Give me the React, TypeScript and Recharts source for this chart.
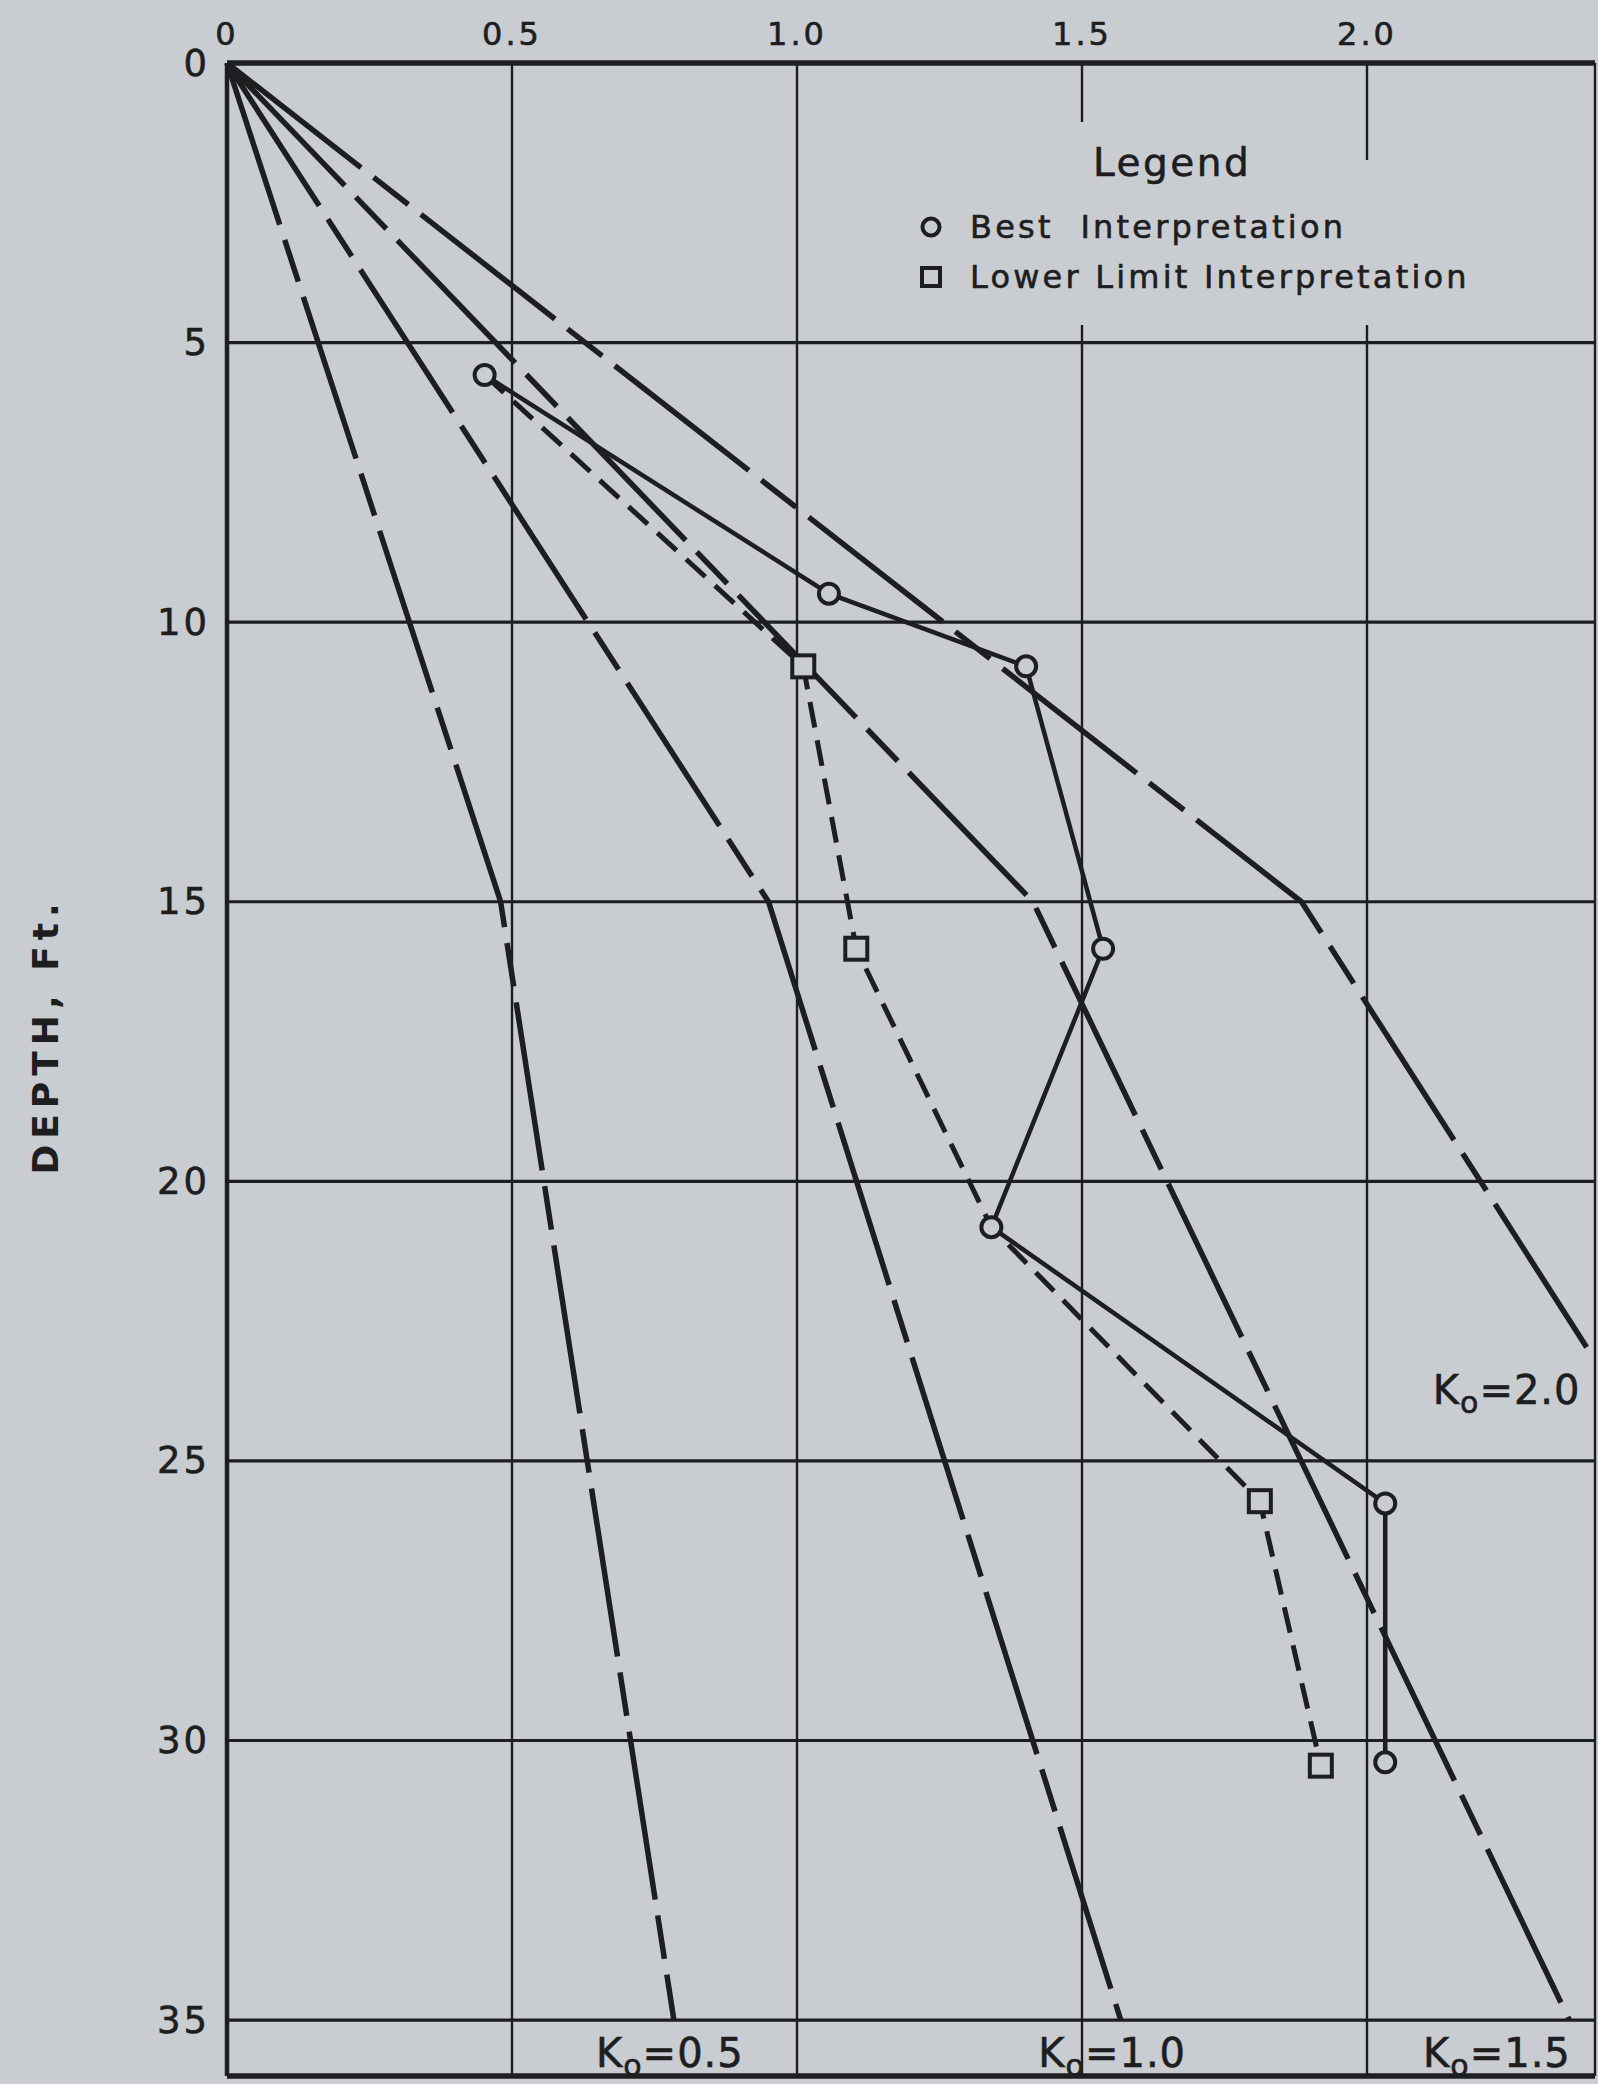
import {
  ComposedChart,
  Legend,
  Line,
  ReferenceLine,
  Scatter,
  XAxis,
  YAxis,
} from "recharts";

const BG = "#c9ccd0";
const INK = "#1e1e20";
const FONT = "'DejaVu Sans', 'Liberation Sans', sans-serif";

// axes
const xTicks = [0, 0.5, 1.0, 1.5, 2.0];
const xTickLabels = ["0", "0.5", "1.0", "1.5", "2.0"];
const yTicks = [0, 5, 10, 15, 20, 25, 30, 35];
const xGrid = [0.5, 1.0, 1.5, 2.0];
const yGrid = [5, 10, 15, 20, 25, 30, 35];
const X_MAX = 2.4;
const Y_MAX = 36;

// K0 reference lines (depth in ft)
const k0Half = [
  { x: 0, y: 0 },
  { x: 0.48, y: 15 },
  { x: 0.784, y: 35 },
];
const k0One = [
  { x: 0, y: 0 },
  { x: 0.95, y: 15 },
  { x: 1.568, y: 35 },
];
const k0OneHalf = [
  { x: 0, y: 0 },
  { x: 1.414, y: 15 },
  { x: 2.355, y: 35 },
];
const k0Two = [
  { x: 0, y: 0 },
  { x: 1.885, y: 15 },
  { x: 2.4, y: 23.2 },
];

// measured points
const bestInterpretation = [
  { x: 0.452, y: 5.58 },
  { x: 1.056, y: 9.49 },
  { x: 1.402, y: 10.79 },
  { x: 1.537, y: 15.84 },
  { x: 1.341, y: 20.82 },
  { x: 2.032, y: 25.76 },
  { x: 2.032, y: 30.39 },
];
const lowerLimit = [
  { x: 0.452, y: 5.58 },
  { x: 1.011, y: 10.79 },
  { x: 1.104, y: 15.84 },
  { x: 1.341, y: 20.82 },
  { x: 1.812, y: 25.72 },
  { x: 1.919, y: 30.45 },
];

const k0Labels = [
  { x: 0.777, y: 35.58, value: "0.5" },
  { x: 1.553, y: 35.58, value: "1.0" },
  { x: 2.228, y: 35.58, value: "1.5" },
  { x: 2.245, y: 23.74, value: "2.0" },
];

const legendTitle = "Legend";
const legendItems = [
  { label: "Best  Interpretation", marker: "circle" },
  { label: "Lower Limit Interpretation", marker: "square" },
];

const k0Dash = "170 16 44 16";
const lowerDash = "26 13";

function isShared(p: { x: number; y: number }) {
  return bestInterpretation.some((b) => b.x === p.x && b.y === p.y);
}

function XTick(props: any) {
  const { x, payload } = props;
  const label = xTickLabels[xTicks.indexOf(payload.value)] ?? String(payload.value);
  return (
    <text
      x={x}
      y={45}
      textAnchor="middle"
      fontSize={32}
      letterSpacing={3}
      fill={INK}
      stroke={INK}
      strokeWidth={0.6}
      fontFamily={FONT}
    >
      {label}
    </text>
  );
}

function YTick(props: any) {
  const { y, payload } = props;
  return (
    <text
      x={210}
      y={y}
      textAnchor="end"
      dominantBaseline="central"
      fontSize={37}
      letterSpacing={3}
      fill={INK}
      stroke={INK}
      strokeWidth={0.6}
      fontFamily={FONT}
    >
      {payload.value}
    </text>
  );
}

function DepthLabel() {
  return (
    <text
      x={45}
      y={1036}
      transform="rotate(-90 45 1036)"
      textAnchor="middle"
      dominantBaseline="central"
      fontSize={36}
      fontWeight="bold"
      letterSpacing={6}
      fill={INK}
      fontFamily={FONT}
    >
      DEPTH, Ft.
    </text>
  );
}

function K0Label(props: any) {
  const { cx, cy, payload } = props;
  return (
    <text
      x={cx}
      y={cy}
      textAnchor="middle"
      dominantBaseline="central"
      fontSize={40}
      letterSpacing={1}
      fill={INK}
      stroke={INK}
      strokeWidth={0.6}
      fontFamily={FONT}
    >
      <tspan>K</tspan>
      <tspan fontSize={30} dy={12}>
        o
      </tspan>
      <tspan dy={-12}>={payload.value}</tspan>
    </text>
  );
}

function BestDot(props: any) {
  const { cx, cy, index } = props;
  return <circle key={`b${index}`} cx={cx} cy={cy} r={10} fill={BG} stroke={INK} strokeWidth={4} />;
}

function LowerDot(props: any) {
  const { cx, cy, index, payload } = props;
  if (isShared(payload)) return <g key={`l${index}`} />;
  return (
    <rect
      key={`l${index}`}
      x={cx - 11}
      y={cy - 11}
      width={22}
      height={22}
      fill={BG}
      stroke={INK}
      strokeWidth={4}
    />
  );
}

function LegendBox() {
  return (
    <div style={{ position: "relative", width: 620, height: 203, fontFamily: FONT, color: INK }}>
      <div style={{ position: "absolute", left: 0, top: 38, width: 620, height: 165, background: BG }}>
        {legendItems.map((item, i) => (
          <div
            key={item.label}
            style={{
              position: "absolute",
              left: 0,
              top: 42 + i * 50,
              height: 50,
              display: "flex",
              alignItems: "center",
              whiteSpace: "pre",
            }}
          >
            <svg width={62} height={50} style={{ display: "block" }}>
              {item.marker === "circle" ? (
                <circle cx={23} cy={25} r={8.5} fill="none" stroke={INK} strokeWidth={4} />
              ) : (
                <rect x={14} y={16} width={18} height={18} fill="none" stroke={INK} strokeWidth={4} />
              )}
            </svg>
            <span
              style={{
                fontSize: 32,
                letterSpacing: 3.2,
                lineHeight: "50px",
                WebkitTextStroke: `0.6px ${INK}`,
              }}
            >
              {item.label}
            </span>
          </div>
        ))}
      </div>
      <div
        style={{
          position: "absolute",
          left: 152,
          top: 0,
          width: 240,
          height: 82,
          background: BG,
          lineHeight: "82px",
          fontSize: 39,
          letterSpacing: 2.5,
          paddingLeft: 33,
          boxSizing: "border-box",
          WebkitTextStroke: `0.6px ${INK}`,
        }}
      >
        {legendTitle}
      </div>
    </div>
  );
}

export default function App() {
  return (
    <div style={{ width: 1598, height: 2084, background: BG, position: "relative", overflow: "hidden" }}>
      <style>{"body{margin:0}"}</style>
      <ComposedChart width={1598} height={2084} margin={{ top: 0, right: 3, bottom: 8, left: 0 }}>
        <XAxis
          type="number"
          dataKey="x"
          orientation="top"
          domain={[0, X_MAX]}
          ticks={xTicks}
          height={63}
          axisLine={false}
          tickLine={false}
          tick={XTick}
          interval={0}
        />
        <YAxis
          type="number"
          reversed
          domain={[0, Y_MAX]}
          ticks={yTicks}
          width={227}
          axisLine={false}
          tickLine={false}
          tick={YTick}
          interval={0}
          label={<DepthLabel />}
        />

        {yGrid.map((v) => (
          <ReferenceLine key={`h${v}`} y={v} stroke={INK} strokeWidth={3.2} />
        ))}
        {xGrid.map((v) => (
          <ReferenceLine key={`v${v}`} x={v} stroke={INK} strokeWidth={2.4} />
        ))}
        <ReferenceLine y={0} stroke={INK} strokeWidth={5.5} />
        <ReferenceLine y={Y_MAX} stroke={INK} strokeWidth={5.5} />
        <ReferenceLine x={0} stroke={INK} strokeWidth={4.5} />
        <ReferenceLine x={X_MAX} stroke={INK} strokeWidth={2.4} />

        <Legend
          layout="vertical"
          align="center"
          verticalAlign="middle"
          wrapperStyle={{ left: 908, top: 122, width: 620, height: 203 }}
          content={() => <LegendBox />}
        />

        <Line data={k0Half} dataKey="y" name="K0=0.5" stroke={INK} strokeWidth={5.5} strokeDasharray={k0Dash} dot={false} legendType="none" isAnimationActive={false} />
        <Line data={k0One} dataKey="y" name="K0=1.0" stroke={INK} strokeWidth={5.5} strokeDasharray={k0Dash} dot={false} legendType="none" isAnimationActive={false} />
        <Line data={k0OneHalf} dataKey="y" name="K0=1.5" stroke={INK} strokeWidth={5.5} strokeDasharray={k0Dash} dot={false} legendType="none" isAnimationActive={false} />
        <Line data={k0Two} dataKey="y" name="K0=2.0" stroke={INK} strokeWidth={5.5} strokeDasharray={k0Dash} dot={false} legendType="none" isAnimationActive={false} />

        <Line
          data={lowerLimit}
          dataKey="y"
          name="Lower Limit Interpretation"
          stroke={INK}
          strokeWidth={5}
          strokeDasharray={lowerDash}
          dot={LowerDot}
          isAnimationActive={false}
        />
        <Line
          data={bestInterpretation}
          dataKey="y"
          name="Best Interpretation"
          stroke={INK}
          strokeWidth={4.5}
          dot={BestDot}
          isAnimationActive={false}
        />

        <Scatter data={k0Labels} dataKey="y" shape={K0Label} legendType="none" isAnimationActive={false} />
      </ComposedChart>
    </div>
  );
}
